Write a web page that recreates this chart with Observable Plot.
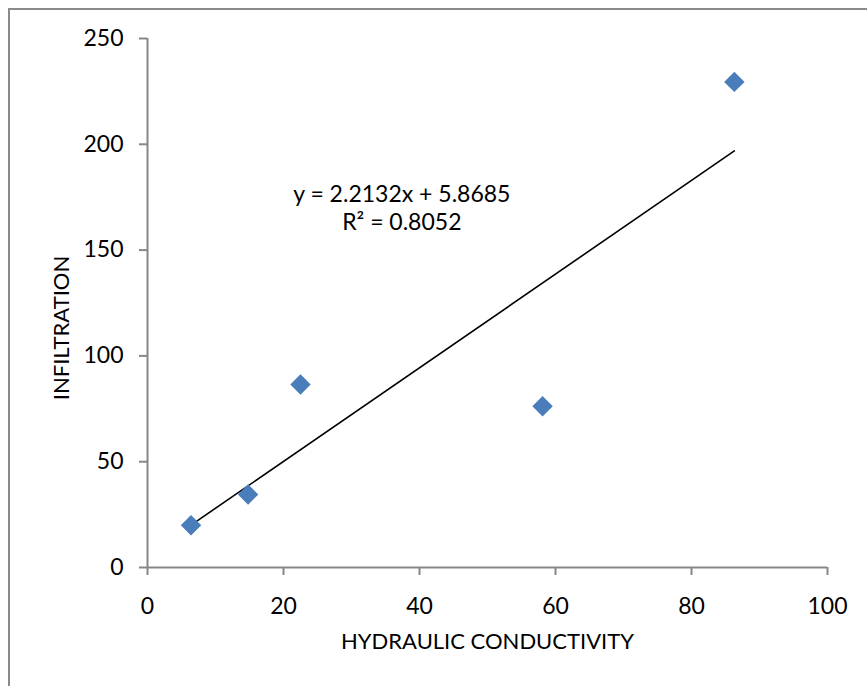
<!DOCTYPE html>
<html>
<head>
<meta charset="utf-8">
<script src="https://cdn.jsdelivr.net/npm/d3@7"></script>
<script src="https://cdn.jsdelivr.net/npm/@observablehq/plot@0.6"></script>
<style>
  html, body { margin: 0; padding: 0; background: #fff; overflow: hidden; }
  #wrap { position: relative; width: 867px; height: 686px; }
  #frame { position: absolute; left: 8px; top: 8px; width: 900px; height: 720px;
           border-left: 2px solid #8a8a8a; border-top: 2px solid #8a8a8a; box-sizing: border-box; }
  #chart { position: absolute; left: 0; top: 0; }
</style>
</head>
<body>
<div id="wrap"><div id="frame"></div><div id="chart"></div></div>
<script>
// Data
const conductivity = [6.4, 14.8, 22.5, 58.1, 86.3];
const infiltration = [20.0, 34.5, 86.5, 76.2, 229.5];
const slope = 2.2132;
const intercept = 5.8685;
const equationLines = ["y = 2.2132x + 5.8685", "R² = 0.8052"];
const xTicks = [0, 20, 40, 60, 80, 100];
const yTicks = [0, 50, 100, 150, 200, 250];
const xLabel = "HYDRAULIC CONDUCTIVITY";
const yLabel = "INFILTRATION";

const points = conductivity.map((x, i) => ({x, y: infiltration[i]}));
const xMin = d3.min(conductivity), xMax = d3.max(conductivity);
const trend = [xMin, xMax].map(x => ({x, y: slope * x + intercept}));

const font = "Lato, 'Open Sans', sans-serif";
const axisGray = "#878787";

const chart = Plot.plot({
  width: 867,
  height: 686,
  marginLeft: 147,
  marginRight: 40,
  marginTop: 38,
  marginBottom: 119,
  style: {fontFamily: font, color: "#000", background: "transparent", overflow: "visible"},
  x: {domain: [0, 100]},
  y: {domain: [0, 250]},
  marks: [
    Plot.ruleY([0], {stroke: axisGray, strokeWidth: 2}),
    Plot.ruleX([0], {stroke: axisGray, strokeWidth: 2}),
    Plot.axisX(xTicks, {tickSize: 8, tickPadding: 22, fontSize: 23, stroke: axisGray, strokeWidth: 2, fill: "#000", label: null}),
    Plot.axisY(yTicks, {tickSize: 8, tickPadding: 16, fontSize: 23, stroke: axisGray, strokeWidth: 2, fill: "#000", label: null}),
    Plot.line(trend, {x: "x", y: "y", stroke: "#000", strokeWidth: 1.6}),
    Plot.dot(points, {x: "x", y: "y", symbol: "diamond2", r: 9.2, fill: "#4A7EBB", stroke: "none"}),
    Plot.text([equationLines.join("\n")], {x: 37.4, y: 170.3, text: d => d, fontSize: 23, lineHeight: 1.22, textAnchor: "middle", fill: "#000"}),
    Plot.text([xLabel], {frameAnchor: "bottom", dy: 81, fontSize: 22, textAnchor: "middle", fill: "#000"}),
    Plot.text([yLabel], {frameAnchor: "left", dx: -86, dy: 25, rotate: -90, fontSize: 22, textAnchor: "middle", fill: "#000"})
  ]
});
document.getElementById("chart").appendChild(chart);
</script>
</body>
</html>
